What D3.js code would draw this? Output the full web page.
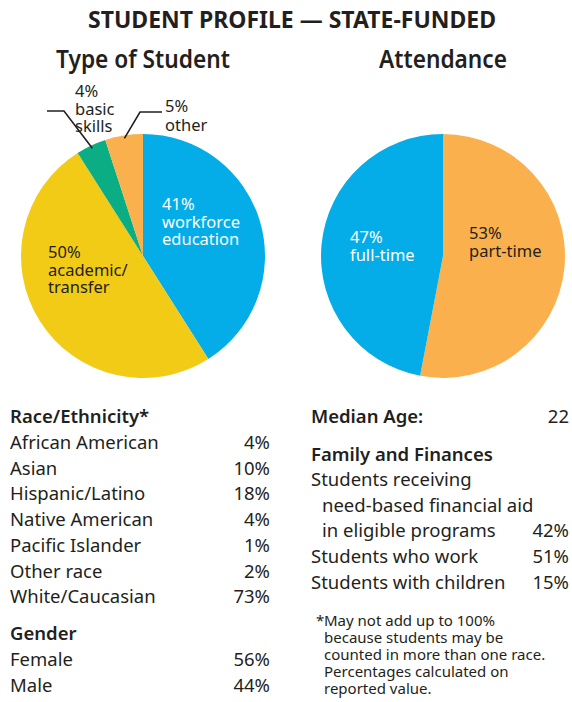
<!DOCTYPE html>
<html>
<head>
<meta charset="utf-8">
<script src="https://cdn.jsdelivr.net/npm/d3@7"></script>
<style>
  body { margin: 0; background: #fff; }
  svg { display: block; font-family: "Noto Sans", "Open Sans", sans-serif; }
</style>
</head>
<body>
<div id="chart"></div>
<script>
const typeLabels = ["workforce education", "academic/transfer", "basic skills", "other"];
const typeValues = [41, 50, 4, 5];
const typeColors = ["#04ade8", "#f2cb17", "#0bae84", "#fab04d"];

const attendLabels = ["part-time", "full-time"];
const attendValues = [53, 47];
const attendColors = ["#fab04d", "#04ade8"];

const raceLabels = ["African American", "Asian", "Hispanic/Latino", "Native American",
  "Pacific Islander", "Other race", "White/Caucasian"];
const raceValues = [4, 10, 18, 4, 1, 2, 73];

const genderLabels = ["Female", "Male"];
const genderValues = [56, 44];

const medianAge = 22;

const familyLabels = ["Students who work", "Students with children"];
const familyValues = [51, 15];
const aidLines = ["Students receiving", "need-based financial aid", "in eligible programs"];
const aidValue = 42;

const footnote = ["May not add up to 100%", "because students may be",
  "counted in more than one race.", "Percentages calculated on", "reported value."];

const width = 572, height = 702;
const ink = "#231f20";

const svg = d3.select("#chart").append("svg")
  .attr("width", width).attr("height", height);

// headings
svg.append("text")
  .attr("x", 292).attr("y", 28)
  .attr("text-anchor", "middle")
  .attr("font-size", 23).attr("font-weight", 700)
  .attr("textLength", 408).attr("lengthAdjust", "spacingAndGlyphs")
  .attr("fill", ink)
  .text("STUDENT PROFILE \u2014 STATE-FUNDED");

const radius = 122;
const pie = d3.pie().sort(null).value(d => d);
const arc = d3.arc().innerRadius(0).outerRadius(radius);

function drawPie(cx, cy, title, titleLen, values, colors) {
  svg.append("text")
    .attr("x", cx).attr("y", 68)
    .attr("text-anchor", "middle")
    .attr("font-size", 25).attr("font-weight", 600)
    .attr("textLength", titleLen).attr("lengthAdjust", "spacingAndGlyphs")
    .attr("fill", ink)
    .text(title);
  const g = svg.append("g").attr("transform", `translate(${cx},${cy})`);
  const arcs = pie(values);
  g.selectAll("path")
    .data(arcs)
    .join("path")
    .attr("d", arc)
    .attr("fill", (d, i) => colors[i]);
  return { g, arcs };
}

function block(g, x, y, lines, color, lh = 17.5) {
  const t = g.append("text")
    .attr("x", x).attr("y", y)
    .attr("font-size", 16.5)
    .attr("fill", color);
  lines.forEach((l, i) => {
    t.append("tspan").attr("x", x).attr("dy", i === 0 ? 0 : lh).text(l);
  });
}

// type of student
const left = drawPie(143, 256, "Type of Student", 174, typeValues, typeColors);
block(left.g, 19, -46, [typeValues[0] + "%", "workforce", "education"], "#fff");
block(left.g, -95, 2, [typeValues[1] + "%", "academic/", "transfer"], ink);

// outside labels with leader lines
function leader(p, arcD, elbow, end) {
  const mid = (arcD.startAngle + arcD.endAngle) / 2;
  const r = radius - 3;
  const a = [Math.sin(mid) * r, -Math.cos(mid) * r];
  p.g.append("polyline")
    .attr("points", [a, elbow, end].map(q => q.join(",")).join(" "))
    .attr("fill", "none")
    .attr("stroke", ink)
    .attr("stroke-width", 1.6);
}
leader(left, left.arcs[2], [-79, -145], [-96, -145]);
block(left.g, -68, -159, [typeValues[2] + "%", "basic", "skills"], ink);
leader(left, left.arcs[3], [-3, -144], [19, -144]);
block(left.g, 22, -144.5, [typeValues[3] + "%", "other"], ink, 19);

// attendance
const right = drawPie(443, 256, "Attendance", 128, attendValues, attendColors);
block(right.g, 26, -17, [attendValues[0] + "%", attendLabels[0]], ink);
block(right.g, -93, -13, [attendValues[1] + "%", attendLabels[1]], "#fff");

// tables
const fs = 18.5;
function row(x, xr, y, label, value, bold) {
  svg.append("text").attr("x", x).attr("y", y)
    .attr("font-size", fs).attr("font-weight", bold ? 600 : 400)
    .attr("fill", ink).text(label);
  if (value !== null) {
    svg.append("text").attr("x", xr).attr("y", y)
      .attr("text-anchor", "end")
      .attr("font-size", fs).attr("fill", ink).text(value);
  }
}

row(10, 270, 423, "Race/Ethnicity*", null, true);
raceLabels.forEach((l, i) => row(10, 270, 449 + i * 25.7, l, raceValues[i] + "%"));
row(10, 270, 640, "Gender", null, true);
genderLabels.forEach((l, i) => row(10, 270, 666 + i * 25.7, l, genderValues[i] + "%"));

svg.append("text").attr("x", 311).attr("y", 423)
  .attr("font-size", fs).attr("font-weight", 600).attr("fill", ink).text("Median Age:");
svg.append("text").attr("x", 569).attr("y", 423).attr("text-anchor", "end")
  .attr("font-size", fs).attr("fill", ink).text(medianAge);

row(311, 569, 461, "Family and Finances", null, true);
aidLines.forEach((l, i) => row(i === 0 ? 311 : 322, 569, 486 + i * 25.5, l,
  i === aidLines.length - 1 ? aidValue + "%" : null));
familyLabels.forEach((l, i) => row(311, 569, 563 + i * 25.5, l, familyValues[i] + "%"));

svg.append("text").attr("x", 316).attr("y", 626)
  .attr("font-size", 15).attr("fill", ink).text("*");
footnote.forEach((l, i) => {
  svg.append("text").attr("x", 324).attr("y", 626 + i * 17)
    .attr("font-size", 15).attr("fill", ink).text(l);
});
</script>
</body>
</html>
